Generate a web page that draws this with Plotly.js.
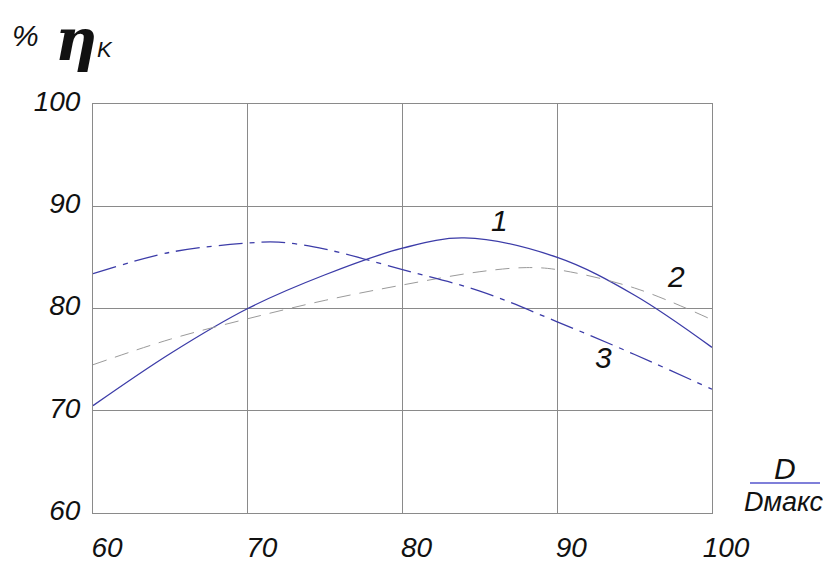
<!DOCTYPE html>
<html>
<head>
<meta charset="utf-8">
<script src="https://cdn.plot.ly/plotly-3.0.1.min.js"></script>
<style>html,body{margin:0;padding:0;background:#fff;}#chart{width:823px;height:562px;}</style>
</head>
<body>
<div id="chart"></div>
<script>
// Curve 1 (solid)
const x1 = [60, 65, 70, 75, 80, 84, 90, 95, 100];
const y1 = [70.5, 75.6, 80.0, 83.3, 85.9, 86.9, 85.0, 81.3, 76.2];
// Curve 2 (dashed)
const x2 = [60, 65, 70, 75, 80, 85, 88, 90, 95, 100];
const y2 = [74.5, 77.0, 79.0, 80.8, 82.3, 83.6, 84.0, 83.8, 82.0, 78.9];
// Curve 3 (dash-dot)
const x3 = [60, 65, 70, 72, 75, 80, 85, 90, 95, 100];
const y3 = [83.4, 85.5, 86.4, 86.5, 85.8, 83.8, 81.7, 78.7, 75.5, 72.1];
const curveLabels = ["1", "2", "3"];
const xTicks = [60, 70, 80, 90, 100];
const yTicks = [60, 70, 80, 90, 100];

const FONT = "'Liberation Sans', Arial, sans-serif";
const blue = "#3c3ca8";

const traces = [
  {x: x1, y: y1, mode: "lines", line: {color: blue, width: 1.3, shape: "spline"}},
  {x: x2, y: y2, mode: "lines", line: {color: "#9a9a9a", width: 1, shape: "spline", dash: "14px,9px"}},
  {x: x3, y: y3, mode: "lines", line: {color: blue, width: 1.3, shape: "spline", dash: "24px,7px,5px,7px"}}
];

const W = 823, H = 562, L = 93, R = 111, T = 104, B = 49;
const pw = W - L - R, ph = H - T - B;
function px(x){ return (x - L) / pw; }
function py(y){ return (H - B - y) / ph; }
function txt(xp, yp, s, size, fam){
  return {x: px(xp), y: py(yp), xref: "paper", yref: "paper", xanchor: "center", yanchor: "middle",
    text: s, showarrow: false,
    font: {family: fam || FONT, size: size, color: "#111"}};
}
const it = v => "<i>" + v + "</i>";

const tickFont = {family: FONT, size: 28, color: "#111"};
const layout = {
  width: W, height: H,
  margin: {l: L, r: R, t: T, b: B},
  paper_bgcolor: "#fff", plot_bgcolor: "#fff",
  showlegend: false,
  xaxis: {
    range: [60, 100], tickvals: xTicks, ticktext: xTicks.map(it),
    showgrid: true, gridcolor: "#8a8a8a", gridwidth: 1,
    showline: true, linecolor: "#8a8a8a", linewidth: 1, mirror: true,
    zeroline: false, ticks: "", ticklabelshift: 14, ticklabelstandoff: 9,
    tickfont: tickFont
  },
  yaxis: {
    range: [60, 100], tickvals: yTicks, ticktext: yTicks.map(it),
    showgrid: true, gridcolor: "#8a8a8a", gridwidth: 1,
    showline: true, linecolor: "#8a8a8a", linewidth: 1, mirror: true,
    zeroline: false, ticks: "", ticklabelstandoff: 6, ticklabelshift: -3,
    tickfont: tickFont
  },
  annotations: [
    {x: 86.3, y: 88.6, xref: "x", yref: "y", text: it(curveLabels[0]), showarrow: false,
     xanchor: "center", yanchor: "middle", font: {family: FONT, size: 30, color: "#111"}},
    {x: 97.7, y: 83.1, xref: "x", yref: "y", text: it(curveLabels[1]), showarrow: false,
     xanchor: "center", yanchor: "middle", font: {family: FONT, size: 30, color: "#111"}},
    {x: 93.0, y: 75.2, xref: "x", yref: "y", text: it(curveLabels[2]), showarrow: false,
     xanchor: "center", yanchor: "middle", font: {family: FONT, size: 30, color: "#111"}},
    txt(25, 36, it("%"), 30),
    txt(76, 40, "<b><i>η</i></b>", 58, "'DejaVu Serif', serif"),
    txt(105, 50, it("K"), 22),
    txt(785, 468, it("D"), 30),
    txt(783, 502, it("Dмакс"), 27)
  ],
  shapes: [
    {type: "line", xref: "paper", yref: "paper", x0: px(750), x1: px(820), y0: py(483), y1: py(483),
     line: {color: "#5555cc", width: 1.3}}
  ]
};

Plotly.newPlot("chart", traces, layout, {staticPlot: true, displayModeBar: false});
</script>
</body>
</html>
